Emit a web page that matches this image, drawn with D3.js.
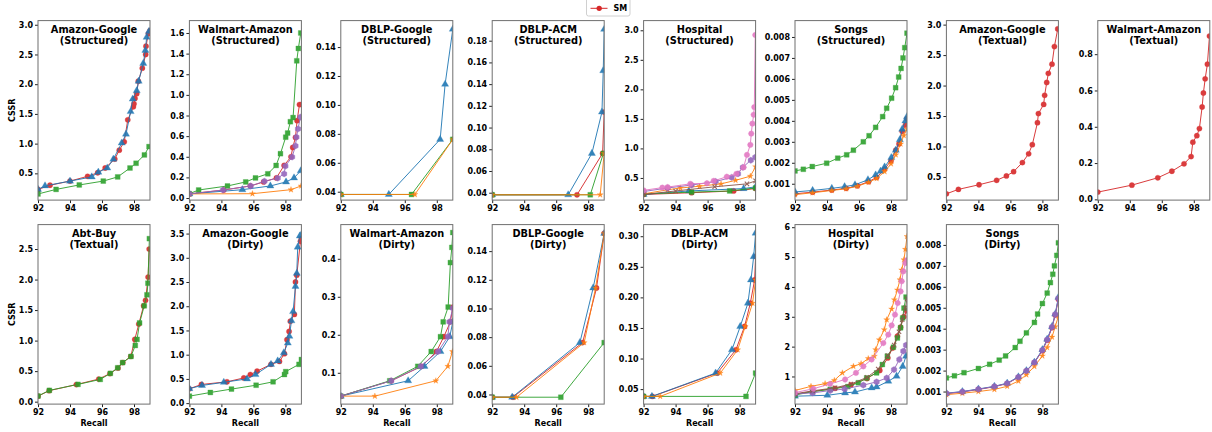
<!DOCTYPE html>
<html>
<head>
<meta charset="utf-8">
<script src="https://cdn.jsdelivr.net/npm/d3@7"></script>
<style>
body{margin:0;background:#fff;}
svg text{font-family:"DejaVu Sans",sans-serif;font-weight:bold;fill:#000;}
</style>
</head>
<body>
<div id="chart"></div>
<script>
// x axis shared by every panel
const xDomain = [92, 99];
const xTicks = [92, 94, 96, 98];

// ---- Amazon-Google (Structured)
const agS_red = [[92,0.23],[92.75,0.3],[94,0.37],[95.1,0.45],[95.73,0.51],[96.2,0.59],[96.8,0.74],[97.08,0.89],[97.39,1.03],[97.61,1.4],[97.96,1.62],[98.0,1.67],[98.06,1.76],[98.17,1.84],[98.27,2.05],[98.52,2.27],[98.73,2.5],[98.75,2.64],[98.9,2.85],[99,2.9]];
const agS_blue = [[92,0.23],[92.44,0.29],[94,0.37],[95.36,0.44],[95.77,0.52],[96.33,0.59],[96.71,0.74],[97.23,1.01],[97.5,1.16],[97.79,1.54],[97.92,1.75],[98.17,1.89],[98.29,2.05],[98.58,2.35],[98.71,2.57],[98.79,2.79],[98.94,2.89]];
const agS_green = [[92,0.153],[93.13,0.23],[94.58,0.305],[96.08,0.37],[96.98,0.44],[97.75,0.59],[98.13,0.67],[98.65,0.81],[98.94,0.95]];
// ---- Walmart-Amazon (Structured)
const waS_red = [[92,0.04],[94.15,0.078],[95.81,0.117],[96.64,0.156],[97.44,0.195],[97.92,0.316],[98.35,0.40],[98.46,0.49],[98.63,0.587],[98.73,0.75],[98.88,0.906],[99,0.906]];
const waS_blue = [[92,0.04],[95.31,0.081],[97.06,0.117],[98.04,0.156],[98.54,0.195],[98.96,0.264]];
const waS_green = [[92,0.042],[92.58,0.078],[94.38,0.117],[95.52,0.156],[96.13,0.195],[96.9,0.235],[97.42,0.316],[97.69,0.43],[98.02,0.59],[98.14,0.63],[98.31,0.74],[98.48,0.78],[98.71,1.33],[98.81,1.45],[98.96,1.60]];
const waS_orange = [[92,0.04],[95.94,0.042],[98.35,0.081],[98.98,0.117]];
const waS_purple = [[92,0.04],[94.1,0.078],[95.83,0.117],[96.69,0.163],[97.52,0.193],[97.92,0.235],[98.0,0.31],[98.42,0.398],[98.63,0.505],[98.69,0.59],[98.79,0.67],[98.94,0.785]];
// ---- DBLP-Google (Structured)
const dgS_blue = [[92,0.0381],[95.0,0.0381],[98.21,0.0762],[98.52,0.1143],[99,0.1524]];
const dgS_green = [[92,0.0381],[96.42,0.0381],[99,0.0762]];
const dgS_orange = [[92,0.0381],[96.63,0.0381],[99,0.0762]];
// ---- DBLP-ACM (Structured)
const daS_red = [[92,0.0381],[97.3,0.0381],[98.9,0.0762],[99,0.1143]];
const daS_blue = [[92,0.0381],[96.75,0.0381],[98.23,0.0762],[98.86,0.1143],[98.94,0.1524],[99,0.1905]];
const daS_green = [[92,0.0381],[98.13,0.0381],[98.95,0.0762]];
const daS_orange = [[92,0.0381],[98.75,0.0381],[99,0.0762]];
// ---- Hospital (Structured)
const hoS_red = [[92,0.22],[95,0.25],[97.63,0.28],[99,0.32]];
const hoS_blue = [[92,0.22],[94.83,0.28],[98.25,0.32],[99,0.35]];
const hoS_green = [[92,0.23],[95,0.26],[97.38,0.28],[99,0.33]];
const hoS_orange = [[92,0.23],[93.5,0.30],[94.3,0.33],[95.5,0.36],[96.84,0.40],[97.75,0.46],[98.67,0.53],[99,0.69]];
const hoS_purple = [[92,0.27],[93.5,0.33],[95,0.38],[96.5,0.44],[97.5,0.51],[97.9,0.57],[98.2,0.68],[98.7,0.80],[98.98,0.85]];
const hoS_brown = [[92,0.22],[94,0.28],[96.44,0.35],[98.46,0.40],[99,0.45]];
const hoS_pink = [[92,0.29],[93.17,0.336],[93.5,0.345],[94.92,0.40],[95.96,0.41],[96.38,0.45],[97.2,0.52],[97.8,0.57],[98.25,0.68],[98.46,0.89],[98.67,1.06],[98.73,1.25],[98.8,1.42],[98.88,1.57],[98.92,1.70],[98.98,2.92]];
// ---- Songs (Structured)
const soS_red = [[92,0.00052],[93.1,0.0006],[94.3,0.0007],[95.2,0.00078],[95.9,0.0009],[96.6,0.0011],[97.1,0.0013],[97.6,0.0017],[98.0,0.0021],[98.3,0.0026],[98.5,0.0029],[98.7,0.0035],[98.9,0.0038],[99,0.0041]];
const soS_blue = [[92,0.00061],[93.1,0.00068],[94.3,0.00078],[95.1,0.00086],[95.75,0.00095],[96.56,0.00119],[97.04,0.00142],[97.35,0.0016],[97.6,0.0018],[98.02,0.00225],[98.3,0.0026],[98.55,0.0031],[98.7,0.0036],[98.9,0.004],[99,0.0042]];
const soS_green = [[92,0.00161],[92.52,0.00169],[93.08,0.00182],[93.98,0.00198],[94.67,0.00222],[95.23,0.00238],[95.65,0.0026],[96.27,0.003],[96.63,0.00329],[97.04,0.00369],[97.48,0.0042],[97.73,0.0046],[98.04,0.00508],[98.29,0.00558],[98.48,0.00609],[98.63,0.0065],[98.75,0.007],[98.86,0.00749],[99,0.00818]];
const soS_orange = [[92,0.00048],[93.1,0.00057],[94.3,0.00068],[95.2,0.00076],[95.9,0.00088],[96.6,0.00107],[97.1,0.00125],[97.6,0.00158],[98.0,0.00195],[98.3,0.00238],[98.6,0.0029],[98.8,0.0033],[99,0.0036]];
// ---- Amazon-Google (Textual)
const agT_red = [[92,0.223],[92.75,0.296],[94.04,0.372],[95.14,0.445],[95.75,0.516],[96.2,0.587],[96.75,0.736],[97.14,0.88],[97.37,1.03],[97.69,1.39],[97.75,1.54],[98.08,1.69],[98.14,1.84],[98.27,2.05],[98.37,2.20],[98.6,2.35],[98.75,2.64],[98.96,2.93]];
// ---- Walmart-Amazon (Textual)
const waT_red = [[92,0.040],[94.13,0.0785],[95.75,0.119],[96.63,0.155],[97.39,0.196],[97.83,0.236],[97.94,0.315],[98.19,0.351],[98.35,0.39],[98.52,0.509],[98.6,0.586],[98.71,0.664],[98.85,0.745],[98.98,0.90]];
// ---- Abt-Buy (Textual)
const abT_red = [[92,0.09],[92.7,0.18],[94.4,0.28],[95.8,0.37],[96.5,0.46],[97.0,0.55],[97.3,0.64],[97.8,0.74],[98.05,1.02],[98.3,1.27],[98.6,1.57],[98.72,1.66],[98.88,2.04],[98.95,2.5]];
const abT_green = [[92,0.092],[92.71,0.185],[94.5,0.283],[95.89,0.364],[96.52,0.463],[96.98,0.555],[97.29,0.64],[97.81,0.74],[98.08,0.92],[98.19,1.02],[98.35,1.29],[98.64,1.57],[98.81,1.75],[98.87,1.94],[98.96,2.67]];
// ---- Amazon-Google (Dirty)
const agD_red = [[92,0.296],[92.75,0.385],[94.35,0.44],[95.4,0.52],[95.81,0.59],[96.23,0.66],[97.1,0.80],[97.63,0.86],[97.94,1.02],[98.1,1.31],[98.23,1.48],[98.31,1.69],[98.56,1.83],[98.63,2.5],[98.71,2.64],[98.94,3.34],[99,3.4]];
const agD_blue = [[92,0.3],[92.79,0.365],[94.15,0.43],[95.6,0.50],[96.13,0.59],[97.1,0.8],[97.52,0.87],[97.9,1.04],[98.15,1.24],[98.25,1.38],[98.38,1.70],[98.48,1.89],[98.63,2.41],[98.71,2.68],[98.77,3.22],[98.9,3.45],[99,3.48]];
const agD_green = [[92,0.144],[93.31,0.22],[94.63,0.29],[96.17,0.37],[97.23,0.44],[97.94,0.59],[98.02,0.65],[98.85,0.80],[99,0.90]];
// ---- Walmart-Amazon (Dirty)
const waD_red = [[92,0.0386],[95.15,0.079],[97.05,0.117],[97.98,0.156],[98.44,0.195],[98.85,0.234],[99,0.273]];
const waD_blue = [[92,0.0386],[96.21,0.079],[97.23,0.117],[98.23,0.156],[98.81,0.195],[99,0.234]];
const waD_green = [[92,0.0386],[95.06,0.079],[96.81,0.117],[97.65,0.156],[98.23,0.195],[98.4,0.234],[98.71,0.273],[98.85,0.390],[98.94,0.43],[99,0.469]];
const waD_orange = [[92,0.0386],[94.13,0.0386],[97.94,0.079],[98.69,0.117],[98.98,0.156]];
const waD_purple = [[92,0.0386],[95.15,0.079],[97.0,0.117],[98.08,0.156],[98.69,0.195],[98.79,0.234],[99,0.27]];
// ---- DBLP-Google (Dirty)
const dgD_red = [[92,0.0381],[93.3,0.0381],[97.65,0.0762],[98.52,0.1143],[99,0.1524]];
const dgD_blue = [[92,0.0381],[93.25,0.0381],[97.48,0.0762],[98.31,0.1143],[99,0.1524]];
const dgD_green = [[92,0.0381],[96.29,0.0381],[99,0.0762]];
const dgD_orange = [[92,0.0381],[93.52,0.0381],[97.75,0.0762],[98.46,0.1143],[99,0.1524]];
// ---- DBLP-ACM (Dirty)
const daD_red = [[92,0.0381],[92.55,0.0381],[96.6,0.0762],[97.77,0.1143],[98.31,0.1524],[98.67,0.1905],[98.94,0.2286],[99,0.2667]];
const daD_blue = [[92,0.0381],[92.52,0.0381],[96.5,0.0762],[97.52,0.1143],[98.04,0.1524],[98.52,0.1905],[98.71,0.2286],[98.88,0.2667],[99,0.305]];
const daD_green = [[92,0.0381],[98.4,0.0381],[99,0.0762]];
const daD_orange = [[92,0.0381],[93.04,0.0381],[96.79,0.0762],[97.88,0.1143],[98.35,0.1524],[98.81,0.1905],[99,0.2286]];
// ---- Hospital (Dirty)
const hoD_red = [[92,0.40],[93.1,0.5],[94.5,0.6],[95.5,0.72],[96.5,0.93],[97.3,1.2],[97.8,1.62],[98.1,1.95],[98.4,2.35],[98.6,2.65],[98.8,3.0],[99,3.2]];
const hoD_blue = [[92,0.34],[94.02,0.37],[95.13,0.45],[95.75,0.48],[96.79,0.62],[97.1,0.65],[97.83,0.84],[98.35,1.01],[98.73,1.34],[98.94,1.68]];
const hoD_green = [[92,0.38],[93.1,0.49],[94.2,0.57],[95.3,0.66],[95.96,0.79],[96.48,0.95],[97.1,1.12],[97.46,1.40],[97.77,1.68],[98.15,1.98],[98.4,2.29],[98.6,2.63],[98.73,2.96],[98.81,3.29],[98.94,3.66]];
const hoD_orange = [[92,0.53],[93.0,0.67],[93.88,0.76],[94.46,0.87],[94.96,1.12],[95.65,1.34],[96.13,1.43],[96.58,1.60],[96.96,1.68],[97.04,1.90],[97.27,2.23],[97.58,2.57],[97.73,2.90],[98.04,3.26],[98.21,3.57],[98.4,3.90],[98.56,4.24],[98.67,4.57],[98.81,4.91],[98.9,5.26],[99,5.69]];
const hoD_purple = [[92,0.42],[93.1,0.45],[94.2,0.53],[95.1,0.58],[96.27,0.71],[97.1,0.82],[97.73,0.95],[98.19,1.23],[98.52,1.57],[98.77,1.85],[98.94,2.05]];
const hoD_brown = [[92,0.42],[93.1,0.52],[94.5,0.62],[95.5,0.75],[96.5,0.97],[97.2,1.25],[97.8,1.7],[98.2,2.05],[98.5,2.5],[98.7,2.9],[98.9,3.3],[99,3.6]];
const hoD_pink = [[92,0.46],[93.15,0.59],[94.19,0.75],[95.13,0.90],[95.81,1.12],[96.27,1.34],[96.79,1.57],[97.52,2.12],[97.83,2.40],[98.04,2.71],[98.25,3.07],[98.42,3.46],[98.6,3.85],[98.67,4.19],[98.77,4.52],[98.9,4.80],[99,4.9]];
// ---- Songs (Dirty)
const soD_red = [[92,0.0009],[93,0.00098],[94,0.0011],[95,0.00123],[95.8,0.00138],[96.5,0.00168],[97,0.00198],[97.5,0.00238],[98,0.00295],[98.3,0.00345],[98.6,0.00405],[98.8,0.00465],[99,0.0054]];
const soD_blue = [[92,0.00092],[93,0.001],[94,0.00112],[95,0.00125],[95.8,0.0014],[96.5,0.0017],[97,0.002],[97.5,0.0024],[98,0.003],[98.3,0.0035],[98.6,0.0041],[98.8,0.0047],[99,0.0055]];
const soD_green = [[92,0.00165],[92.5,0.00175],[93.1,0.0019],[94,0.0021],[94.7,0.0023],[95.3,0.0025],[95.7,0.0027],[96.3,0.0031],[96.6,0.0034],[97.0,0.0038],[97.5,0.0043],[97.7,0.0047],[98.0,0.0052],[98.3,0.0057],[98.5,0.0062],[98.65,0.0066],[98.75,0.007],[98.9,0.0075],[99,0.0081]];
const soD_orange = [[92,0.00085],[93,0.00092],[94,0.001],[95,0.0011],[95.8,0.00125],[96.5,0.0015],[97,0.0018],[97.5,0.0022],[98,0.0027],[98.3,0.0031],[98.6,0.0036],[98.8,0.0041],[99,0.0046]];
const soD_purple = [[92,0.00091],[93,0.00099],[94,0.00111],[95,0.00124],[95.8,0.00139],[96.5,0.00169],[97,0.00199],[97.5,0.00239],[98,0.00298],[98.3,0.00348],[98.6,0.00408],[98.8,0.00468],[99,0.00545]];

// titles, y ranges and y tick labels of each panel
const titles = [
  ['Amazon-Google','(Structured)'],['Walmart-Amazon','(Structured)'],['DBLP-Google','(Structured)'],['DBLP-ACM','(Structured)'],
  ['Hospital','(Structured)'],['Songs','(Structured)'],['Amazon-Google','(Textual)'],['Walmart-Amazon','(Textual)'],
  ['Abt-Buy','(Textual)'],['Amazon-Google','(Dirty)'],['Walmart-Amazon','(Dirty)'],['DBLP-Google','(Dirty)'],
  ['DBLP-ACM','(Dirty)'],['Hospital','(Dirty)'],['Songs','(Dirty)']
];
const yDomains = [
  [0.05,3.07],[-0.02,1.72],[0.0342,0.1583],[0.0332,0.1985],[0.125,3.164],[0.00022,0.00878],[0.12,3.066],[-0.004,0.985],
  [-0.04,2.90],[-0.02,3.685],[0.0176,0.49],[0.0333,0.1585],[0.0255,0.319],[0.075,6.087],[0.0004,0.00897]
];
const yTicks = [
  [0.5,1.0,1.5,2.0,2.5,3.0],[0,0.2,0.4,0.6,0.8,1.0,1.2,1.4,1.6],[0.04,0.06,0.08,0.10,0.12,0.14],[0.04,0.06,0.08,0.10,0.12,0.14,0.16,0.18],
  [0.5,1.0,1.5,2.0,2.5,3.0],[0.001,0.002,0.003,0.004,0.005,0.006,0.007,0.008],[0.5,1.0,1.5,2.0,2.5,3.0],[0,0.2,0.4,0.6,0.8],
  [0,0.5,1.0,1.5,2.0,2.5],[0,0.5,1.0,1.5,2.0,2.5,3.0,3.5],[0.1,0.2,0.3,0.4],[0.04,0.06,0.08,0.10,0.12,0.14],
  [0.05,0.10,0.15,0.20,0.25,0.30],[1,2,3,4,5,6],[0.001,0.002,0.003,0.004,0.005,0.006,0.007,0.008]
];
const yFormats = ['.1f','.1f','.2f','.2f','.1f','.3f','.1f','.1f','.1f','.1f','.1f','.2f','.2f','d','.3f'];

// series per panel
const panelSeries = [
  {red:agS_red, blue:agS_blue, green:agS_green},
  {red:waS_red, blue:waS_blue, green:waS_green, orange:waS_orange, purple:waS_purple},
  {blue:dgS_blue, green:dgS_green, orange:dgS_orange},
  {red:daS_red, blue:daS_blue, green:daS_green, orange:daS_orange},
  {red:hoS_red, blue:hoS_blue, green:hoS_green, orange:hoS_orange, purple:hoS_purple, brown:hoS_brown, pink:hoS_pink},
  {red:soS_red, blue:soS_blue, green:soS_green, orange:soS_orange},
  {red:agT_red},
  {red:waT_red},
  {red:abT_red, green:abT_green},
  {red:agD_red, blue:agD_blue, green:agD_green},
  {red:waD_red, blue:waD_blue, green:waD_green, orange:waD_orange, purple:waD_purple},
  {red:dgD_red, blue:dgD_blue, green:dgD_green, orange:dgD_orange},
  {red:daD_red, blue:daD_blue, green:daD_green, orange:daD_orange},
  {red:hoD_red, blue:hoD_blue, green:hoD_green, orange:hoD_orange, purple:hoD_purple, brown:hoD_brown, pink:hoD_pink},
  {red:soD_red, blue:soD_blue, green:soD_green, orange:soD_orange, purple:soD_purple}
];
const drawOrder = ['red','blue','green','orange','purple','brown','pink'];

// layout
const W = 1212, H = 432;
const plotW = 112, plotH = 179.5;
const colX = c => 38 + c * 151.4;
const rowY = [20.6, 224.6];

// regular polygon marker (hexagon / octagon)
const polygon = n => ({
  draw(ctx, size) {
    const r = Math.sqrt(size / (n / 2 * Math.sin(2 * Math.PI / n)));
    for (let i = 0; i < n; i++) {
      const a = i * 2 * Math.PI / n - Math.PI / 2;
      const px = r * Math.cos(a), py = r * Math.sin(a);
      if (i) ctx.lineTo(px, py); else ctx.moveTo(px, py);
    }
    ctx.closePath();
  }
});

const styles = {
  red:    {color:'#d62728', sym:d3.symbolCircle, size:22},
  blue:   {color:'#1f77b4', sym:d3.symbolTriangle, size:22},
  green:  {color:'#2ca02c', sym:d3.symbolSquare, size:24},
  orange: {color:'#ff7f0e', sym:d3.symbolStar, size:11},
  purple: {color:'#9467bd', sym:polygon(6), size:26},
  brown:  {color:'#8c564b', sym:d3.symbolTimes, size:14, stroke:true},
  pink:   {color:'#e377c2', sym:polygon(8), size:24}
};

const svg = d3.select('#chart').append('svg')
  .attr('width', W).attr('height', H);

titles.forEach((t, i) => {
  const row = i < 8 ? 0 : 1;
  const col = i < 8 ? i : i - 8;
  const g = svg.append('g').attr('transform', `translate(${colX(col)},${rowY[row]})`);

  const x = d3.scaleLinear().domain(xDomain).range([0, plotW]);
  const y = d3.scaleLinear().domain(yDomains[i]).range([plotH, 0]);

  g.append('clipPath').attr('id', 'clip' + i)
    .append('rect').attr('width', plotW).attr('height', plotH);
  const plot = g.append('g').attr('clip-path', `url(#clip${i})`);

  const line = d3.line().x(d => x(d[0])).y(d => y(d[1]));

  drawOrder.filter(k => panelSeries[i][k]).forEach(k => {
    const data = panelSeries[i][k], st = styles[k];
    const sg = plot.append('g').attr('opacity', 0.9);
    sg.append('path').datum(data)
      .attr('d', line)
      .attr('fill', 'none')
      .attr('stroke', st.color)
      .attr('stroke-width', 1);
    sg.selectAll('.m').data(data).enter().append('path')
      .attr('transform', d => `translate(${x(d[0])},${y(d[1])})`)
      .attr('d', d3.symbol().type(st.sym).size(st.size))
      .attr('fill', st.stroke ? 'none' : st.color)
      .attr('stroke', st.color)
      .attr('stroke-width', st.stroke ? 1.1 : 0.3);
  });

  // axes
  const xAxis = d3.axisBottom(x).tickValues(xTicks).tickFormat(d3.format('d')).tickSize(3).tickPadding(2);
  const yAxis = d3.axisLeft(y).tickValues(yTicks[i]).tickFormat(d3.format(yFormats[i])).tickSize(3).tickPadding(2);
  const gx = g.append('g').attr('transform', `translate(0,${plotH})`).call(xAxis);
  const gy = g.append('g').call(yAxis);
  [gx, gy].forEach(a => {
    a.select('.domain').remove();
    a.selectAll('text').style('font-size', '8px').attr('fill', '#000');
    a.selectAll('line').attr('stroke', '#222');
  });

  // frame
  g.append('rect').attr('width', plotW).attr('height', plotH)
    .attr('fill', 'none').attr('stroke', '#6f6f6f').attr('stroke-width', 1);

  // title
  g.append('text').attr('x', plotW / 2).attr('y', 12)
    .attr('text-anchor', 'middle').style('font-size', '9.8px').text(t[0]);
  g.append('text').attr('x', plotW / 2).attr('y', 23)
    .attr('text-anchor', 'middle').style('font-size', '9.8px').text(t[1]);

  if (col === 0) {
    g.append('text')
      .attr('transform', `translate(-23,${plotH / 2}) rotate(-90)`)
      .attr('text-anchor', 'middle').style('font-size', '8px').text('CSSR');
  }
  if (row === 1) {
    g.append('text').attr('x', plotW / 2).attr('y', plotH + 22)
      .attr('text-anchor', 'middle').style('font-size', '8px').text('Recall');
  }
});

// legend (only SM)
const lg = svg.append('g').attr('transform', 'translate(586.5,-3)');
lg.append('rect').attr('width', 43.5).attr('height', 19).attr('rx', 2)
  .attr('fill', '#fff').attr('stroke', '#d0d0d0').attr('stroke-width', 1);
lg.append('line').attr('x1', 4).attr('x2', 21).attr('y1', 11.3).attr('y2', 11.3)
  .attr('stroke', styles.red.color).attr('stroke-width', 1);
lg.append('path').attr('transform', 'translate(12.7,11.3)')
  .attr('d', d3.symbol().type(styles.red.sym).size(styles.red.size))
  .attr('fill', styles.red.color);
lg.append('text').attr('x', 27).attr('y', 14.2).style('font-size', '8px').text('SM');
</script>
</body>
</html>
